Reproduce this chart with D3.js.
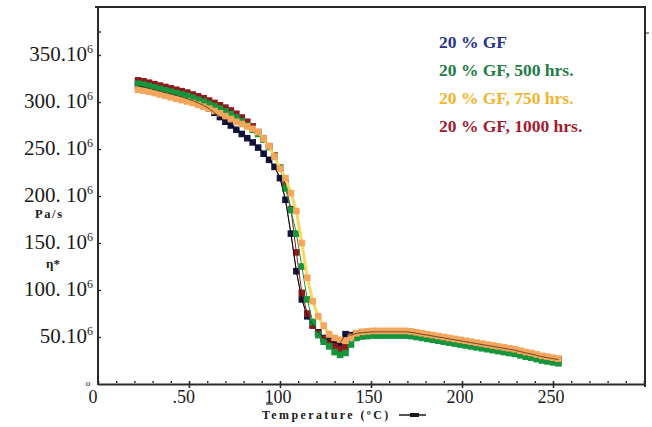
<!DOCTYPE html>
<html>
<head>
<meta charset="utf-8">
<script src="https://cdn.jsdelivr.net/npm/d3@7"></script>
<style>
  html, body { margin: 0; padding: 0; background: #fff; }
  svg { display: block; }
  text { font-family: "Liberation Serif", "DejaVu Serif", serif; }
</style>
</head>
<body>
<svg id="chart" width="652" height="427"></svg>
<script>
// ---------------- DATA ----------------
const temperatures = [22,25,28,31,34,37,40,43,46,49,52,55,58,61,64,67,70,73,76,79,82,85,88,91,94,97,100,103,106,109,112,115,118,121,124,127,130,133,136,139,142,145,148,151,154,157,160,163,166,169,172,175,178,181,184,187,190,193,196,199,202,205,208,211,214,217,220,223,226,229,232,235,238,241,244,247,250,253];

// eta* in units of 10^6 Pa.s
const gf20 = [317,316,314.5,313,311.5,310,308.5,307,305.5,303.5,301.5,299,296.5,293,288.5,284,279,275,270.5,266,261.5,257,251.5,245,238.5,231,219,196,160,120,90,72,63,55,49,46,44,43,53,52,54,
  54.5,55,55.5,55.5,55.5,55.5,55.5,55.5,55.5,55,54,53,52,51,50,49,48,47,46,45,44,43,42,41,40,39,38,37,36,34.5,33,32,30.5,29,28,27,26];
const gf20h1000 = [323,322,320.5,319,317.5,316,314.5,313,311.5,310,308,306,304,301.5,299,296.5,294,291,287.5,283.5,279,274,268,261,253,243,230,214,186,140,97,75,62,54,48,44,40,37,39,50,53,
  54,54.5,55,55,55,55,55,55,55,54.5,53.5,52.5,51.5,50.5,49.5,48.5,47.5,46.5,45.5,44.5,43.5,42.5,41.5,40.5,39.5,38.5,37.5,36.5,35.5,34,32.5,31.5,30,28.5,27.5,26.5,25.5];
const gf20h500 = [319.5,318.5,317,315.5,314,312.5,311,309.5,308,306.5,304.5,302.5,300.5,298,295.5,293,290,287,283.5,279.5,275,270.5,266,260,252,242,230,208,185,160,125,90,66,52,45,40,34,31,33,42,49,
  50.5,51,51.5,51.5,51.5,51.5,51.5,51.5,51.5,51,50,49,48,47,46,45,44,43,42,41,40,39,38,37,36,35,34,33,32,30.5,29,28,26.5,25,24,23,22];
const gf20h750 = [313,312,311,309.5,308,306.5,305,303.5,302,300.5,299,297,295,293,290.5,288,285,282,279,276.5,274,271.5,268,261,253,242,229,219,203,184,150,113,88,72,62,53,49,47,46,50,54,
  55.5,56,56.5,56.5,56.5,56.5,56.5,56.5,56.5,56,55,54,53,52,51,50,49,48,47,46,45,44,43,42,41,40,39,38,37,35.5,34,33,31.5,30,29,28,27];

const legendLabels = ["20 % GF", "20 % GF, 500 hrs.", "20 % GF, 750 hrs.", "20 % GF, 1000 hrs."];
const yTickValues = [50,100,150,200,250,300,350];
const yTickLabels = ["50.10", "100. 10", "150. 10", "200. 10", "250. 10", "300. 10", "350.10"];
const xTickValues = [0,50,100,150,200,250];
const xTickLabels = ["0", ".50", "100", "150", "200", "250"];

// ---------------- CHART ----------------
const svg = d3.select("#chart");
const x = d3.scaleLinear().domain([0, 300]).range([98, 644]);
const y = d3.scaleLinear().domain([0, 400]).range([384, 8]);

const axisColor = "#2a2a2a";

// frame lines (top / right)
svg.append("line").attr("x1", 95).attr("x2", 645).attr("y1", 7).attr("y2", 7)
  .attr("stroke", axisColor).attr("stroke-width", 2);
svg.append("line").attr("x1", 645).attr("x2", 645).attr("y1", 6).attr("y2", 387)
  .attr("stroke", axisColor).attr("stroke-width", 2);
svg.append("line").attr("x1", 645).attr("x2", 649).attr("y1", 33).attr("y2", 33)
  .attr("stroke", axisColor).attr("stroke-width", 1);

// x axis (bottom)
const xAxis = d3.axisBottom(x).tickValues(d3.range(0, 301, 10)).tickSize(0).tickFormat("");
const gx = svg.append("g").attr("transform", `translate(0,${y(0)})`).call(xAxis);
gx.select(".domain").attr("stroke", axisColor).attr("stroke-width", 2);
gx.selectAll(".tick line").remove();
gx.selectAll(".tick").append("line")
  .attr("y1", -3)
  .attr("y2", d => d % 50 === 0 && d > 0 && d < 300 ? 4 : -1)
  .attr("stroke", axisColor).attr("stroke-width", d => d % 50 === 0 ? 1.6 : 1.4);

// y axis (left)
const yAxis = d3.axisLeft(y).tickValues([50,100,150,200,250,300,350,375]).tickSize(0).tickFormat("");
const gy = svg.append("g").attr("transform", `translate(${x(0)},0)`).call(yAxis);
gy.select(".domain").attr("stroke", axisColor).attr("stroke-width", 2)
  .attr("d", `M0,${y(0)+1}V7`);
gy.selectAll(".tick").append("line").attr("x1", 0).attr("x2", 3)
  .attr("stroke", axisColor).attr("stroke-width", 1.4);

// y tick labels
const yl = svg.append("g");
yTickValues.forEach((v, i) => {
  const t = yl.append("text").attr("x", 93).attr("y", y(v) + 6)
    .attr("text-anchor", "end").attr("font-size", 21).attr("fill", "#1a1a1a");
  t.append("tspan").text(yTickLabels[i]);
  t.append("tspan").attr("font-size", 12).attr("dy", -8).text("6");
});
svg.append("text").attr("x", 88).attr("y", y(0) + 2).attr("text-anchor", "middle")
  .attr("font-size", 9).attr("fill", "#1a1a1a").text("o");

// x tick labels
xTickValues.forEach((v, i) => {
  let cx = x(v);
  let anchor = "middle";
  if (v === 0) cx = 93;
  if (v === 50) { cx = 195; anchor = "end"; }
  if (v === 100) cx = 278;
  if (v > 100) cx = x(v) - 2;
  svg.append("text").attr("x", cx).attr("y", 403).attr("text-anchor", anchor)
    .attr("font-size", 18).attr("fill", "#1a1a1a").text(xTickLabels[i]);
});
// underline under "1" of 100
svg.append("line").attr("x1", 266).attr("x2", 273).attr("y1", 404).attr("y2", 404)
  .attr("stroke", "#1a1a1a").attr("stroke-width", 1.2);

// axis titles
svg.append("text").attr("x", 262).attr("y", 419).attr("font-size", 12).attr("font-weight", "bold")
  .attr("letter-spacing", 2.4).attr("fill", "#1a1a1a").text("Temperature (ºC)");
svg.append("line").attr("x1", 399).attr("x2", 426).attr("y1", 415).attr("y2", 415)
  .attr("stroke", "#1a1a1a").attr("stroke-width", 1.5);
svg.append("rect").attr("x", 410).attr("y", 413).attr("width", 9).attr("height", 4).attr("fill", "#1a1a1a");

svg.append("text").attr("x", 35).attr("y", 218).attr("font-size", 12.5).attr("font-weight", "bold")
  .attr("letter-spacing", 1.6).attr("fill", "#1a1a1a").text("Pa/s");
svg.append("text").attr("x", 46).attr("y", 268).attr("font-size", 13).attr("font-weight", "bold")
  .attr("fill", "#1a1a1a").text("η*");

// ---------------- SERIES ----------------
const series = [
  { name: legendLabels[0], values: gf20,      marker: "#141440", line: "#000000", lw: 1 },
  { name: legendLabels[3], values: gf20h1000, marker: "#8e1a1e", line: "#8e1a1e", lw: 1 },
  { name: legendLabels[1], values: gf20h500,  marker: "#16963c", line: "#16963c", lw: 1 },
  { name: legendLabels[2], values: gf20h750,  marker: "#f4a65c", line: "#f5d85e", lw: 3 }
];
const lineGen = d3.line().x((d, i) => x(temperatures[i])).y(d => y(d));
const ms = 6.6;
series.forEach(s => {
  svg.append("path").datum(s.values).attr("d", lineGen)
    .attr("fill", "none").attr("stroke", s.line).attr("stroke-width", s.lw);
  svg.append("g").selectAll("rect").data(s.values).join("rect")
    .attr("x", (d, i) => x(temperatures[i]) - ms / 2)
    .attr("y", d => y(d) - ms / 2)
    .attr("width", ms).attr("height", ms)
    .attr("fill", s.marker);
});
// thin black guide line of the unaged series over the drop
svg.append("path").datum(gf20).attr("d", lineGen)
  .attr("fill", "none").attr("stroke", "#000").attr("stroke-width", 0.8).attr("opacity", 0.7);

// ---------------- LEGEND ----------------
const legendColors = ["#27348b", "#1d7d45", "#f2b42c", "#a31b2e"];
legendLabels.forEach((lab, i) => {
  svg.append("text").attr("x", 439).attr("y", 48 + i * 28)
    .attr("font-size", 17.5).attr("font-weight", "bold")
    .attr("fill", legendColors[i]).text(lab);
});
</script>
</body>
</html>
